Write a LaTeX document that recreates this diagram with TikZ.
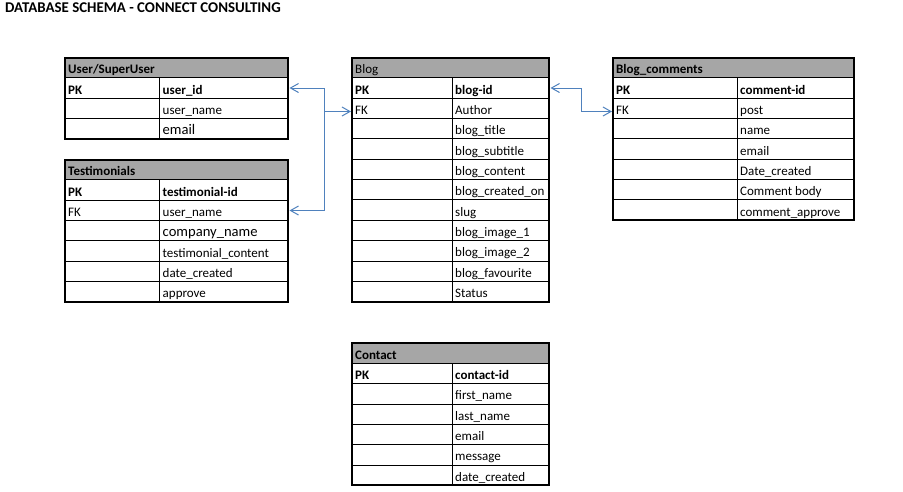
\documentclass[tikz,border=0pt]{standalone}
\usepackage{fontspec}
\setmainfont{Carlito}
\usetikzlibrary{arrows.meta}
\definecolor{hdr}{HTML}{A6A6A6}
\definecolor{linkc}{HTML}{4F81BD}
\newcommand\rowh{20.35}
\tikzset{
  cell/.style={anchor=base west, inner sep=0pt, font=\fontsize{13}{15}\selectfont},
  bigcell/.style={anchor=base west, inner sep=0pt, font=\fontsize{14.6}{17}\selectfont},
  gridline/.style={draw=black, line width=1pt},
  frameline/.style={draw=black, line width=2pt},
  linkline/.style={draw=linkc, line width=1pt, >={Straight Barb[length=8pt,width=9pt]}},
  titletext/.style={anchor=base west, inner sep=0pt, font=\bfseries\fontsize{14.9}{17}\selectfont}
}
% table frame: id, x0, xdiv, x1, ytop, body rows, header text
\newcommand\dbtable[7]{%
  \def\tX{#2}\def\tD{#3}\def\tY{#5}%
  \pgfmathsetmacro\tB{#5+(#6+1)*\rowh}%
  \fill[hdr] (#2,#5) rectangle (#4,#5+\rowh);
  \foreach \k in {1,...,#6} {\draw[gridline] (#2,#5+\k*\rowh) -- (#4,#5+\k*\rowh);}
  \draw[gridline] (#3,#5+\rowh) -- (#3,\tB);
  \draw[frameline] (#2,#5) rectangle (#4,\tB);
  \node[cell] (#1-h) at (#2+3,#5+\rowh-4.2) {#7};
}
% left / right cell text: style, name, row, text
\newcommand\lc[4]{\node[#1] (#2) at (\tX+3,\tY+#3*\rowh+\rowh-4.2) {#4};}
\newcommand\rc[4]{\node[#1] (#2) at (\tD+3,\tY+#3*\rowh+\rowh-4.2) {#4};}
\begin{document}
\begin{tikzpicture}[x=1pt,y=-1pt]
\useasboundingbox (0,0) rectangle (903,491);
\node[titletext] (title) at (5,12.5) {DATABASE SCHEMA - CONNECT CONSULTING};

% User/SuperUser
\dbtable{user}{65}{159.5}{288}{57.5}{3}{\bfseries User/SuperUser}
\lc{cell}{user-l1}{1}{\bfseries PK}
\rc{cell}{user-r1}{1}{\bfseries user\_id}
\rc{cell}{user-r2}{2}{user\_name}
\rc{bigcell}{user-r3}{3}{email}

% Testimonials
\dbtable{test}{65}{159.5}{288}{159.5}{6}{\bfseries Testimonials}
\lc{cell}{test-l1}{1}{\bfseries PK}
\rc{cell}{test-r1}{1}{\bfseries testimonial-id}
\lc{cell}{test-l2}{2}{FK}
\rc{cell}{test-r2}{2}{user\_name}
\rc{bigcell}{test-r3}{3}{company\_name}
\rc{cell}{test-r4}{4}{testimonial\_content}
\rc{cell}{test-r5}{5}{date\_created}
\rc{cell}{test-r6}{6}{approve}

% Blog
\dbtable{blog}{352}{452}{549}{57.5}{11}{Blog}
\lc{cell}{blog-l1}{1}{\bfseries PK}
\rc{cell}{blog-r1}{1}{\bfseries blog-id}
\lc{cell}{blog-l2}{2}{FK}
\rc{cell}{blog-r2}{2}{Author}
\rc{cell}{blog-r3}{3}{blog\_title}
\rc{cell}{blog-r4}{4}{blog\_subtitle}
\rc{cell}{blog-r5}{5}{blog\_content}
\rc{cell}{blog-r6}{6}{blog\_created\_on}
\rc{cell}{blog-r7}{7}{slug}
\rc{cell}{blog-r8}{8}{blog\_image\_1}
\rc{cell}{blog-r9}{9}{blog\_image\_2}
\rc{cell}{blog-r10}{10}{blog\_favourite}
\rc{cell}{blog-r11}{11}{Status}

% Blog_comments
\dbtable{com}{613}{737}{854}{57.5}{7}{\bfseries Blog\_comments}
\lc{cell}{com-l1}{1}{\bfseries PK}
\rc{cell}{com-r1}{1}{\bfseries comment-id}
\lc{cell}{com-l2}{2}{FK}
\rc{cell}{com-r2}{2}{post}
\rc{cell}{com-r3}{3}{name}
\rc{cell}{com-r4}{4}{email}
\rc{cell}{com-r5}{5}{Date\_created}
\rc{cell}{com-r6}{6}{Comment body}
\rc{cell}{com-r7}{7}{comment\_approve}

% Contact
\dbtable{con}{352}{452}{549}{343}{6}{\bfseries Contact}
\lc{cell}{con-l1}{1}{\bfseries PK}
\rc{cell}{con-r1}{1}{\bfseries contact-id}
\rc{cell}{con-r2}{2}{first\_name}
\rc{cell}{con-r3}{3}{last\_name}
\rc{cell}{con-r4}{4}{email}
\rc{cell}{con-r5}{5}{message}
\rc{cell}{con-r6}{6}{date\_created}

% connector end points
\coordinate (userPK) at (289.5,88);
\coordinate (testFK) at (289.5,210.5);
\coordinate (blogFK) at (351,111.5);
\coordinate (blogPK) at (550.5,88);
\coordinate (comFK) at (612,111.5);
\coordinate (jTop) at (324,88);
\coordinate (jMid) at (324,111.5);
\coordinate (jBot) at (324,210.5);
\coordinate (kTop) at (581.5,88);
\coordinate (kBot) at (581.5,111.5);

\draw[linkline,<->] (userPK) -- (jTop) -- (jBot) -- (testFK);
\draw[linkline,->] (jMid) -- (blogFK);
\draw[linkline,<->] (blogPK) -- (kTop) -- (kBot) -- (comFK);
\end{tikzpicture}
\end{document}
